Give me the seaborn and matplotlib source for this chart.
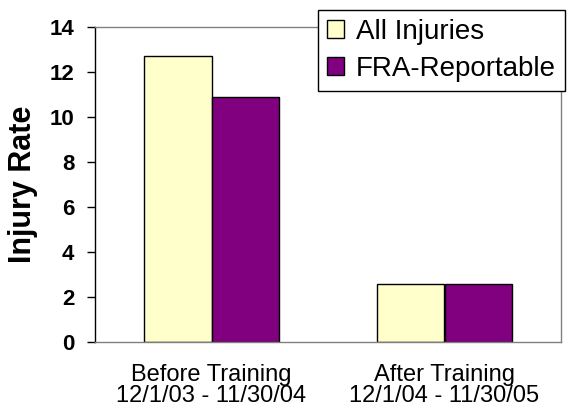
import matplotlib
matplotlib.use("Agg")
import matplotlib.pyplot as plt
import seaborn as sns
import pandas as pd

categories = ["Before Training\n12/1/03 - 11/30/04", "After Training\n12/1/04 - 11/30/05"]
series_names = ["All Injuries", "FRA-Reportable"]
all_injuries = [12.7, 2.6]
fra_reportable = [10.87, 2.6]
y_ticks = [0, 2, 4, 6, 8, 10, 12, 14]

rows = []
for c, v in zip(categories, all_injuries):
    rows.append({"Period": c, "Series": series_names[0], "Rate": v})
for c, v in zip(categories, fra_reportable):
    rows.append({"Period": c, "Series": series_names[1], "Rate": v})
df = pd.DataFrame(rows)

sns.set_style("white")
plt.rcParams["font.family"] = ["Liberation Sans", "DejaVu Sans"]
plt.rcParams["text.color"] = "black"
plt.rcParams["axes.labelcolor"] = "black"
plt.rcParams["xtick.color"] = "black"
plt.rcParams["ytick.color"] = "black"

fig = plt.figure(figsize=(5.69, 4.12), dpi=100)
ax = fig.add_axes([95 / 569, (412 - 342) / 412, (561 - 95) / 569, (342 - 27) / 412])

palette = {series_names[0]: "#FFFFCC", series_names[1]: "#800080"}
sns.barplot(data=df, x="Period", y="Rate", hue="Series", order=categories,
            hue_order=series_names, palette=palette, width=0.58,
            edgecolor="black", linewidth=1.0, saturation=1, ax=ax)

ax.set_xlim(-0.5, 1.5)
ax.set_ylim(0, 14)
ax.set_yticks(y_ticks)
ax.set_yticklabels([str(t) for t in y_ticks], fontsize=16, fontweight="bold")
ax.tick_params(axis="y", direction="out", length=6, width=1, color="black", pad=9, left=True)
ax.tick_params(axis="x", length=0, pad=16)
for lbl in ax.get_xticklabels():
    lbl.set_fontsize(17)
    lbl.set_linespacing(0.95)

ax.set_xlabel("")
ax.set_ylabel("Injury Rate", fontsize=22, fontweight="bold", labelpad=8)

for s in ["top", "right", "bottom"]:
    ax.spines[s].set_color("#808080")
    ax.spines[s].set_linewidth(1)
ax.spines["left"].set_color("black")
ax.spines["left"].set_linewidth(1)

leg = ax.legend(loc="upper right", bbox_to_anchor=(565 / 569, 1 - 10 / 412),
                bbox_transform=fig.transFigure, fontsize=20, frameon=True,
                fancybox=False, framealpha=1, edgecolor="black",
                handlelength=0.6, handleheight=0.6, handletextpad=0.45,
                borderpad=0.32, labelspacing=0.4, borderaxespad=0)
leg.get_frame().set_linewidth(1)

fig.savefig("out.png", dpi=100)
